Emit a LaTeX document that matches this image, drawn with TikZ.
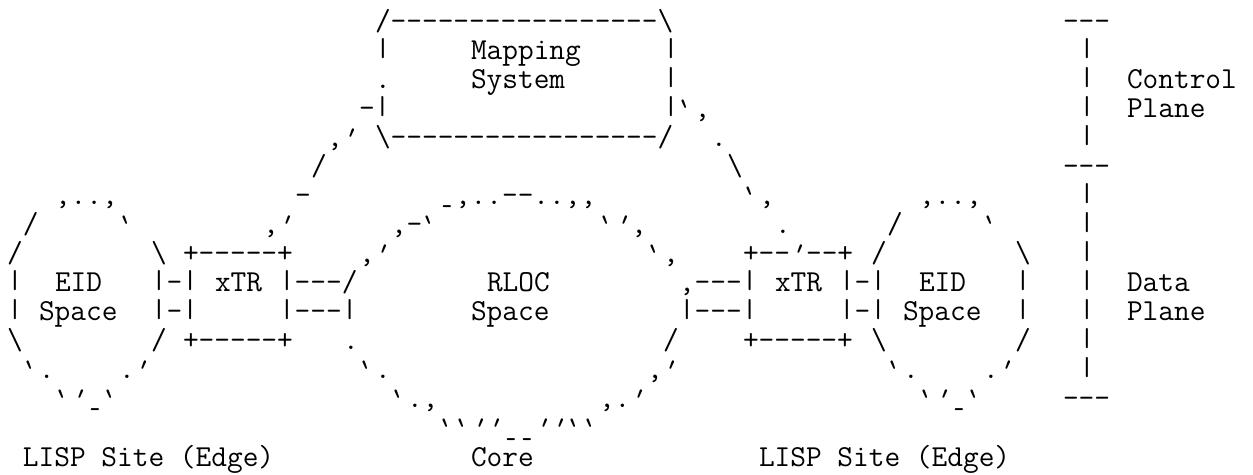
\documentclass[tikz,border=0pt]{standalone}
\newcommand\bs{\textbackslash}
% quote ticks leaning right (apostrophe) and left (grave), one cell wide
\newcommand\ap{\makebox[16pt]{\rotatebox[origin=c]{-22}{'}}}
\newcommand\gr{\makebox[16pt]{\rotatebox[origin=c]{22}{'}}}
% short underscore, one character cell wide
\newcommand\us{\makebox[16pt]{\raisebox{3pt}{\scalebox{0.65}[1]{\_}}}}
% vertical bar kept inside its own line so stacked bars leave a gap
\newcommand\vb{\raisebox{3.5pt}{\scalebox{1}[0.85]{|}}}
\tikzset{
  asc/.style={anchor=base west, inner sep=0pt, outer sep=0pt,
    text height=15pt, text depth=4pt,
    font=\ttfamily\fontsize{30.48pt}{29pt}\selectfont\frenchspacing}
}
% one run of characters: name, column, row, text
\newcommand\ac[4]{\node[asc] (#1) at ({7pt+16pt*#2},{443pt-29pt*(#3-1)}) {#4};}
\begin{document}
\begin{tikzpicture}
\fill[white] (0,0) rectangle (1253pt,474pt);
\useasboundingbox (0,0) rectangle (1253pt,474pt);
% mapping system box and the control-plane bracket
\ac{msTop}{23}{1}{/-----------------\bs}
\ac{cpTop}{66}{1}{---}
\ac{msL2}{23}{2}{\vb}
\ac{msT1}{29}{2}{Mapping}
\ac{msR2}{41}{2}{\vb}
\ac{cp2}{67}{2}{\vb}
\ac{msL3}{23}{3}{.}
\ac{msT2}{29}{3}{System}
\ac{msR3}{41}{3}{\vb}
\ac{cp3}{67}{3}{\vb}
\ac{cpL1}{70}{3}{Control}
\ac{msL4}{22}{4}{-\vb}
\ac{msR4}{41}{4}{\vb\gr,}
\ac{cp4}{67}{4}{\vb}
\ac{cpL2}{70}{4}{Plane}
\ac{lnL5}{20}{5}{,\ap}
\ac{msBot}{23}{5}{\bs-----------------/}
\ac{lnR5}{44}{5}{.}
\ac{cp5}{67}{5}{\vb}
\ac{lnL6}{19}{6}{/}
\ac{lnR6}{45}{6}{\bs}
\ac{cpMid}{66}{6}{---}
% upper halves of the clouds
\ac{eL7}{3}{7}{,..,}
\ac{lnL7}{18}{7}{-}
\ac{cr7}{27}{7}{\us,..--..,,}
\ac{lnR7}{46}{7}{\gr,}
\ac{eR7}{57}{7}{,..,}
\ac{dp7}{67}{7}{\vb}
\ac{eLa8}{1}{8}{/}
\ac{eLb8}{7}{8}{\gr}
\ac{lnL8}{16}{8}{,\ap}
\ac{crL8}{24}{8}{,-\gr}
\ac{crR8}{37}{8}{\gr\ap,}
\ac{lnR8}{48}{8}{.}
\ac{eRa8}{55}{8}{/}
\ac{eRb8}{61}{8}{\gr}
\ac{dp8}{67}{8}{\vb}
\ac{eLa9}{0}{9}{/}
\ac{eLb9}{9}{9}{\bs}
\ac{xL9}{11}{9}{+-----+}
\ac{crL9}{22}{9}{,\ap}
\ac{crR9}{40}{9}{\gr,}
\ac{xR9}{46}{9}{+--\ap--+}
\ac{eRa9}{54}{9}{/}
\ac{eRb9}{63}{9}{\bs}
\ac{dp9}{67}{9}{\vb}
% middle rows: labels and links
\ac{eLa10}{0}{10}{\vb}
\ac{eLt10}{3}{10}{EID}
\ac{lkL10}{9}{10}{\vb-\vb}
\ac{xLt10}{13}{10}{xTR}
\ac{xLr10}{17}{10}{\vb---/}
\ac{crT10}{30}{10}{RLOC}
\ac{xRl10}{42}{10}{,---\vb}
\ac{xRt10}{48}{10}{xTR}
\ac{lkR10}{52}{10}{\vb-\vb}
\ac{eRt10}{57}{10}{EID}
\ac{eRb10}{63}{10}{\vb}
\ac{dp10}{67}{10}{\vb}
\ac{dpL1}{70}{10}{Data}
\ac{eLa11}{0}{11}{\vb}
\ac{eLt11}{2}{11}{Space}
\ac{lkL11}{9}{11}{\vb-\vb}
\ac{xLr11}{17}{11}{\vb---\vb}
\ac{crT11}{29}{11}{Space}
\ac{xRl11}{42}{11}{\vb---\vb}
\ac{lkR11}{52}{11}{\vb-\vb}
\ac{eRt11}{56}{11}{Space}
\ac{eRb11}{63}{11}{\vb}
\ac{dp11}{67}{11}{\vb}
\ac{dpL2}{70}{11}{Plane}
% lower halves of the clouds
\ac{eLa12}{0}{12}{\bs}
\ac{eLb12}{9}{12}{/}
\ac{xL12}{11}{12}{+-----+}
\ac{crL12}{21}{12}{.}
\ac{crR12}{41}{12}{/}
\ac{xR12}{46}{12}{+-----+}
\ac{eRa12}{54}{12}{\bs}
\ac{eRb12}{63}{12}{/}
\ac{dp12}{67}{12}{\vb}
\ac{eLa13}{1}{13}{\gr.}
\ac{eLb13}{7}{13}{.\ap}
\ac{crL13}{22}{13}{\gr.}
\ac{crR13}{40}{13}{,\ap}
\ac{eRa13}{55}{13}{\gr.}
\ac{eRb13}{61}{13}{.\ap}
\ac{dp13}{67}{13}{\vb}
\ac{eL14}{3}{14}{\gr\ap\us\gr}
\ac{crL14}{24}{14}{\gr.,}
\ac{crR14}{37}{14}{,.\ap}
\ac{eR14}{57}{14}{\gr\ap\us\gr}
\ac{dpBot}{66}{14}{---}
\ac{cr15}{27}{15}{\gr\gr\ap\ap\us\us\ap\ap\gr\gr}
% captions
\ac{capL}{1}{16}{LISP Site (Edge)}
\ac{capC}{29}{16}{Core}
\ac{capR}{47}{16}{LISP Site (Edge)}
\end{tikzpicture}
\end{document}
